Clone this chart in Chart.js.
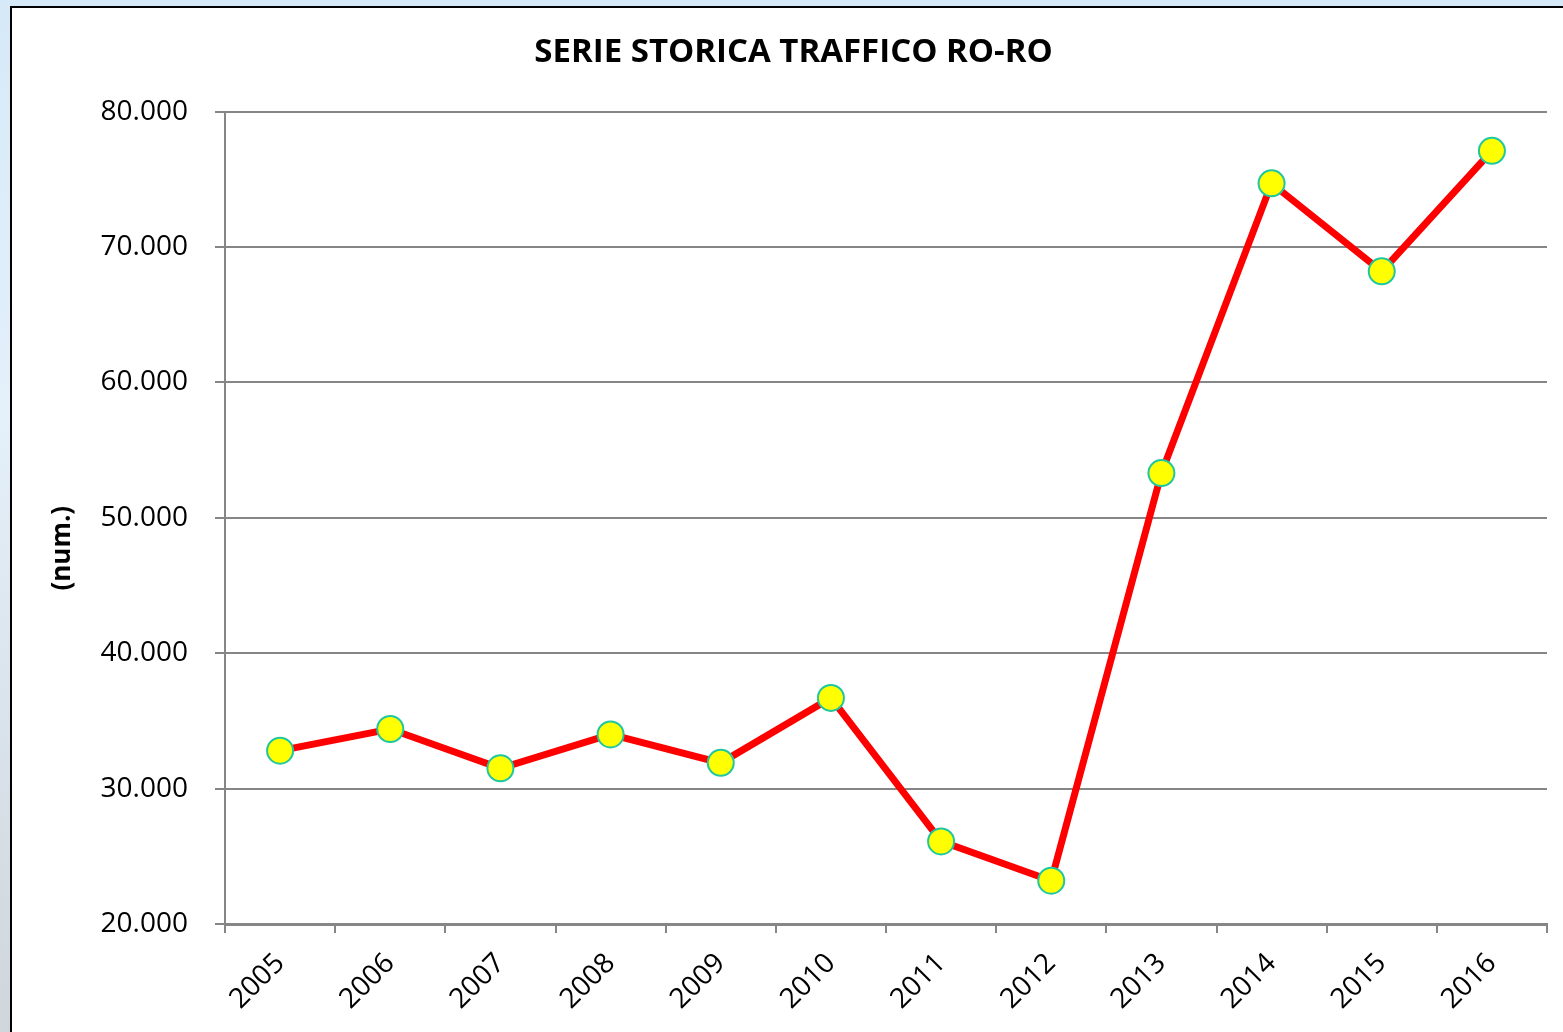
<!DOCTYPE html>
<html>
<head>
<meta charset="utf-8">
<script src="https://cdn.jsdelivr.net/npm/chart.js@4.4.0/dist/chart.umd.min.js"></script>
<style>
  html, body { margin: 0; padding: 0; }
  body {
    width: 1563px; height: 1032px; overflow: hidden;
    background: linear-gradient(180deg, #d6e9f8 0%, #e4f0fa 40%, #cfd6dc 100%);
  }
  #box {
    position: absolute; left: 10px; top: 6px;
    width: 1560px; height: 1040px;
    background: #ffffff; border: 2px solid #000;
  }
  #wrap { position: absolute; left: 0; top: 0; width: 1551px; height: 1024px; }
</style>
</head>
<body>
<div id="box"><div id="wrap"><canvas id="grafico"></canvas></div></div>
<script>
// ── Dati ─────────────────────────────────────────────
const anni = ['2005', '2006', '2007', '2008', '2009', '2010', '2011', '2012', '2013', '2014', '2015', '2016'];
const trafficoRoRo = [32800, 34400, 31500, 34000, 31900, 36700, 26100, 23200, 53300, 74700, 68200, 77100];
const tickY = [20000, 30000, 40000, 50000, 60000, 70000, 80000];

function formatoIt(v) {
    return String(Math.round(v)).replace(/\B(?=(\d{3})+(?!\d))/g, '.');
}

const FONT = "'Open Sans', 'Liberation Sans', sans-serif";

new Chart(document.getElementById('grafico').getContext('2d'), {
    type: 'line',
    data: {
        labels: anni,
        datasets: [{
            label: 'Traffico RO-RO',
            data: trafficoRoRo,
            borderColor: '#ff0000',
            borderWidth: 7,
            tension: 0,
            pointRadius: 13,
            pointHoverRadius: 13,
            pointBackgroundColor: '#ffff00',
            pointBorderColor: '#1fc7a0',
            pointBorderWidth: 2
        }]
    },
    options: {
        responsive: true, maintainAspectRatio: false, animation: false,
        layout: { padding: { left: 28, right: 16, top: 0, bottom: 0 } },
        plugins: {
            legend: { display: false },
            tooltip: { enabled: false },
            title: {
                display: true,
                text: 'SERIE STORICA TRAFFICO RO-RO',
                color: '#000',
                font: { family: FONT, size: 33, weight: 'bold', lineHeight: 1.2 },
                padding: { top: 25, bottom: 39 }
            }
        },
        scales: {
            x: {
                offset: true,
                grid: { offset: true, drawOnChartArea: false, drawTicks: true, tickLength: 9, color: '#868686', lineWidth: 2 },
                border: { color: '#868686', width: 3 },
                ticks: {
                    color: '#000', minRotation: 45, maxRotation: 45, padding: 14,
                    font: { family: FONT, size: 28 }
                },
                afterFit: function (s) { s.height = 108; }
            },
            y: {
                min: 20000, max: 80000,
                afterBuildTicks: function (s) { s.ticks = tickY.map(function (v) { return { value: v }; }); },
                grid: { color: '#868686', lineWidth: 2, tickLength: 10 },
                border: { color: '#868686', width: 2 },
                ticks: {
                    color: '#000', padding: 27,
                    font: { family: FONT, size: 28 },
                    callback: function (v) { return formatoIt(v); }
                },
                title: {
                    display: true, text: '(num.)         ', color: '#000',
                    font: { family: FONT, size: 26, weight: 'bold' },
                    padding: { top: 7, bottom: 0 }
                },
                afterFit: function (s) { s.width = 185; }
            }
        }
    }
});
</script>
</body>
</html>
